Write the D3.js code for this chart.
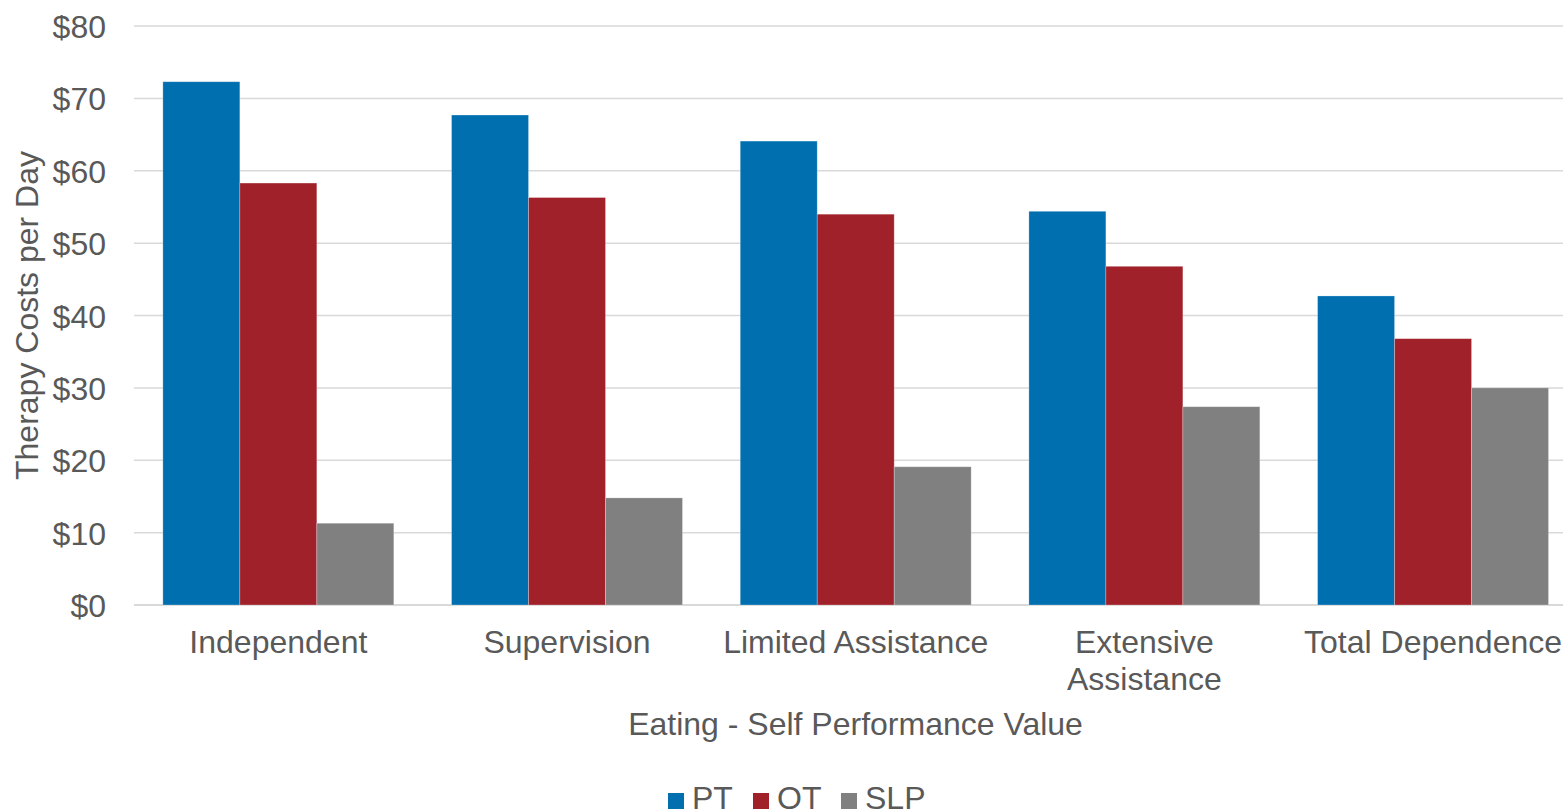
<!DOCTYPE html>
<html>
<head>
<meta charset="utf-8">
<script src="https://cdn.jsdelivr.net/npm/d3@7"></script>
<style>
  html, body { margin: 0; padding: 0; background: #fff; overflow: hidden; }
  svg { display: block; font-family: "Liberation Sans", Arial, sans-serif; }
</style>
</head>
<body>
<svg id="chart" width="1563" height="812"></svg>
<script>
// Categories and series values (therapy cost per day, USD)
const categories = ["Independent", "Supervision", "Limited Assistance", "Extensive Assistance", "Total Dependence"];
const seriesNames = ["PT", "OT", "SLP"];
const ptValues  = [72.3, 67.7, 64.1, 54.4, 42.7];
const otValues  = [58.3, 56.3, 54.0, 46.8, 36.8];
const slpValues = [11.3, 14.8, 19.1, 27.4, 30.0];
const yTicks = [0, 10, 20, 30, 40, 50, 60, 70, 80];
const seriesColors = ["#006fb0", "#a0212a", "#808080"];

const yTitle = "Therapy Costs per Day";
const xTitle = "Eating - Self Performance Value";

const seriesValues = [ptValues, otValues, slpValues];
const textColor = "#595959";
const gridColor = "#d9d9d9";

const svg = d3.select("#chart");
const plot = { left: 134, right: 1577.4, top: 26, bottom: 605 };

const x0 = d3.scaleBand()
  .domain(categories)
  .range([plot.left, plot.right])
  .paddingInner(0.2)
  .paddingOuter(0.1);

const x1 = d3.scaleBand()
  .domain(seriesNames)
  .range([0, x0.bandwidth()]);

const y = d3.scaleLinear()
  .domain([0, 80])
  .range([plot.bottom, plot.top]);

const color = d3.scaleOrdinal().domain(seriesNames).range(seriesColors);

// Horizontal gridlines
svg.append("g")
  .selectAll("line")
  .data(yTicks)
  .join("line")
  .attr("x1", plot.left)
  .attr("x2", 1563)
  .attr("y1", d => y(d))
  .attr("y2", d => y(d))
  .attr("stroke", gridColor)
  .attr("stroke-width", d => d === 0 ? 2 : 1.5);

// Y axis labels
const yAxis = d3.axisLeft(y)
  .tickValues(yTicks)
  .tickFormat(d => "$" + d)
  .tickSize(0)
  .tickPadding(0);

const yAxisG = svg.append("g")
  .attr("transform", `translate(106,0)`)
  .call(yAxis);
yAxisG.select(".domain").remove();
yAxisG.selectAll("text")
  .attr("fill", textColor)
  .attr("font-size", 32)
  .attr("font-family", "'Liberation Sans', Arial, sans-serif")
  .attr("dy", "0.36em");

// Bars
const rows = categories.map((c, i) => ({
  category: c,
  values: seriesNames.map((s, j) => ({ series: s, value: seriesValues[j][i] }))
}));

const groups = svg.append("g")
  .selectAll("g")
  .data(rows)
  .join("g")
  .attr("transform", d => `translate(${x0(d.category)},0)`);

groups.selectAll("rect")
  .data(d => d.values)
  .join("rect")
  .attr("x", d => x1(d.series))
  .attr("width", x1.bandwidth())
  .attr("y", d => y(d.value))
  .attr("height", d => y(0) - y(d.value))
  .attr("fill", d => color(d.series))
  .attr("stroke", "rgba(255,255,255,0.35)")
  .attr("stroke-width", 0.75);

// X axis category labels (wrapped to the band step)
const xAxis = d3.axisBottom(x0).tickSize(0).tickPadding(0);
const xAxisG = svg.append("g")
  .attr("transform", `translate(0,${plot.bottom})`)
  .call(xAxis);
xAxisG.select(".domain").remove();
xAxisG.selectAll("text")
  .attr("fill", textColor)
  .attr("font-size", 32)
  .attr("font-family", "'Liberation Sans', Arial, sans-serif")
  .attr("y", 48)
  .attr("dy", 0)
  .each(function() { wrap(d3.select(this), x0.step()); });

function wrap(text, width) {
  const words = text.text().split(/\s+/);
  const xPos = text.attr("x") || 0;
  const yPos = text.attr("y");
  text.text(null);
  let line = [];
  let lineNo = 0;
  let tspan = text.append("tspan").attr("x", xPos).attr("y", yPos);
  words.forEach(w => {
    line.push(w);
    tspan.text(line.join(" "));
    if (tspan.node().getComputedTextLength() > width && line.length > 1) {
      line.pop();
      tspan.text(line.join(" "));
      line = [w];
      lineNo += 1;
      tspan = text.append("tspan")
        .attr("x", xPos)
        .attr("y", +yPos + lineNo * 37)
        .text(w);
    }
  });
}

// Axis titles
svg.append("text")
  .attr("transform", `translate(38,${(plot.top + plot.bottom) / 2}) rotate(-90)`)
  .attr("text-anchor", "middle")
  .attr("fill", textColor)
  .attr("font-size", 32)
  .text(yTitle);

svg.append("text")
  .attr("x", 855.5)
  .attr("y", 735)
  .attr("text-anchor", "middle")
  .attr("fill", textColor)
  .attr("font-size", 32)
  .text(xTitle);

// Legend
const legendItems = [
  { name: "PT", sx: 668, tx: 692 },
  { name: "OT", sx: 753, tx: 777 },
  { name: "SLP", sx: 841, tx: 865 }
];
const legend = svg.append("g").selectAll("g")
  .data(legendItems)
  .join("g");
legend.append("rect")
  .attr("x", d => d.sx)
  .attr("y", 793)
  .attr("width", 16)
  .attr("height", 16)
  .attr("fill", d => color(d.name));
legend.append("text")
  .attr("x", d => d.tx)
  .attr("y", 809)
  .attr("fill", textColor)
  .attr("font-size", 32)
  .text(d => d.name);
</script>
</body>
</html>
